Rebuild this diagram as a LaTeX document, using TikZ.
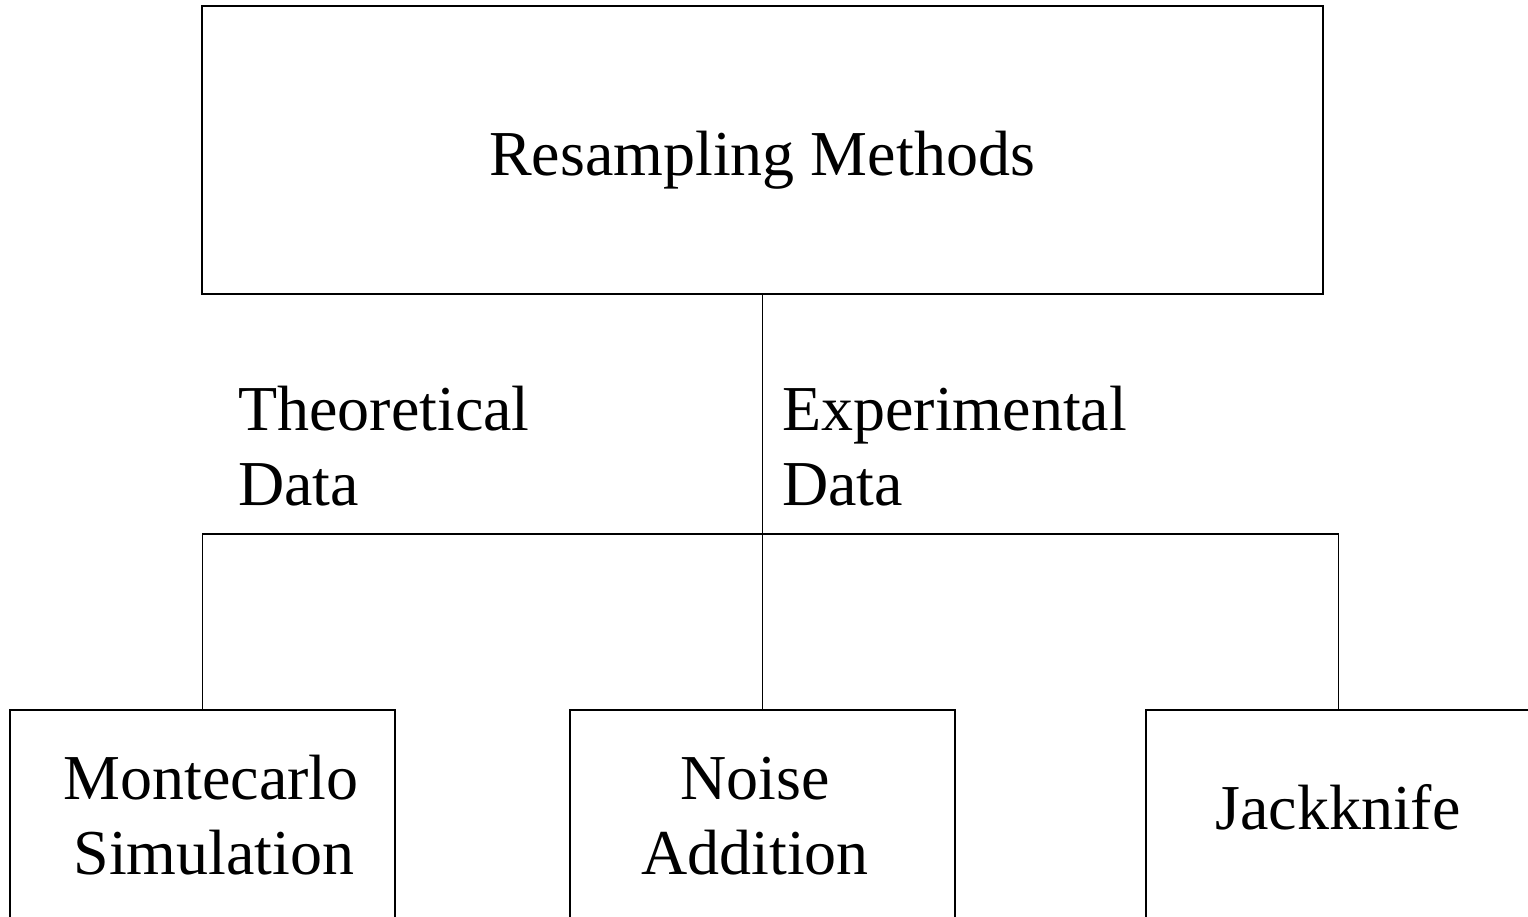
\documentclass[tikz,border=0pt]{standalone}
\usepackage{fontspec}
\setmainfont{Liberation Serif}
\begin{document}
\begin{tikzpicture}[x=1pt,y=-1pt,
  box/.style={draw=black,line width=2pt,rectangle,inner sep=0pt},
  lbl/.style={font=\fontsize{64}{75}\selectfont,inner sep=0pt,anchor=base},
  link/.style={draw=black,line width=1.8pt}]
\useasboundingbox (0,0) rectangle (1528,916);
\clip (0,0) rectangle (1528,916);
% boxes
\node[box,minimum width=1121pt,minimum height=288pt] (top) at (762.5,150) {};
\node[box,minimum width=385pt,minimum height=240pt] (mc) at (202.5,830) {};
\node[box,minimum width=385pt,minimum height=240pt] (noise) at (762.5,830) {};
\node[box,minimum width=385pt,minimum height=240pt] (jk) at (1338.5,830) {};
% texts
\node[lbl] (tt) at (762,175) {Resampling Methods};
\node[lbl,anchor=base west] (th1) at (238,430) {Theoretical};
\node[lbl,anchor=base west] (th2) at (238,505) {Data};
\node[lbl,anchor=base west] (ex1) at (782,430) {Experimental};
\node[lbl,anchor=base west] (ex2) at (782,505) {Data};
\node[lbl] (mc1) at (211,799) {Montecarlo};
\node[lbl] (mc2) at (214,874) {Simulation};
\node[lbl] (no1) at (755,799) {Noise};
\node[lbl] (no2) at (755,874) {Addition};
\node[lbl] (jk1) at (1338,829) {Jackknife};
% connectors
\coordinate (hub) at (762.5,534);
\draw[link] (top.south) -- (noise.north);
\draw[link] (mc.north) |- (hub) -| (jk.north);
\end{tikzpicture}
\end{document}
